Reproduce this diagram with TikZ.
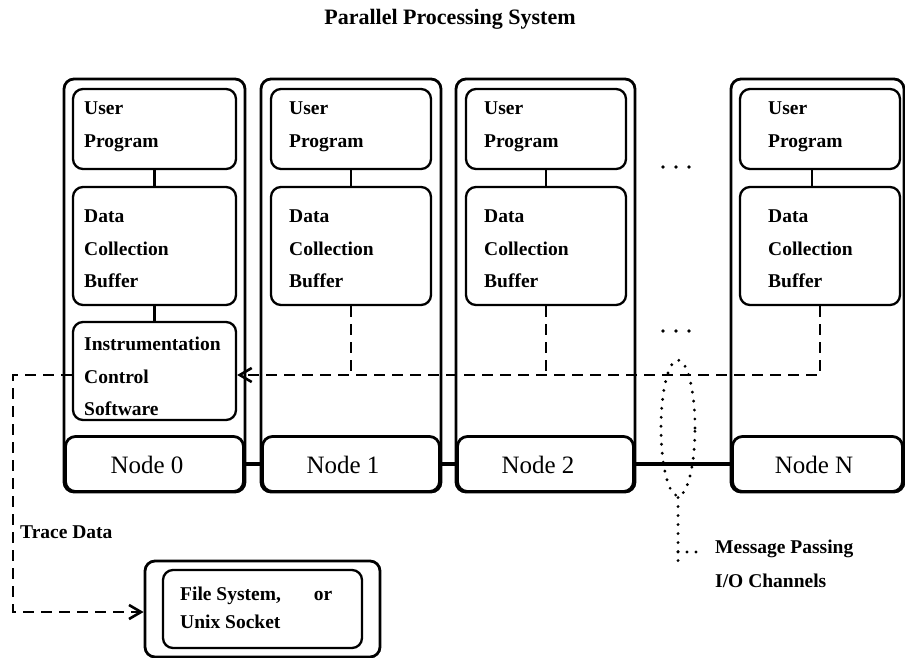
\documentclass[tikz,border=0pt]{standalone}
\usepackage{fontspec}
\setmainfont{Liberation Serif}
\usetikzlibrary{arrows.meta,shapes.geometric}

\begin{document}
\begin{tikzpicture}[x=1pt,y=-1pt,
  outerbox/.style={draw, line width=2.8pt, rounded corners=10pt, inner sep=0pt},
  innerbox/.style={draw, line width=2.3pt, rounded corners=10pt, inner sep=0pt},
  nodebox/.style={draw, line width=2.8pt, rounded corners=10pt, inner sep=0pt, minimum height=55pt},
  lbl/.style={anchor=north west, inner sep=0pt, align=left, font=\fontsize{19.5}{32.5}\selectfont\bfseries},
  nlbl/.style={anchor=base, inner sep=0pt, font=\fontsize{25}{30}\selectfont},
  link/.style={line width=2.4pt},
  bus/.style={line width=3.8pt},
  trace/.style={line width=2.6pt, dash pattern=on 11pt off 7pt},
  dotline/.style={line width=3.2pt, line cap=round, dash pattern=on 0pt off 9pt},
  tip/.style={-{Straight Barb[length=12pt,width=14pt]}}
]
\useasboundingbox (0,0) rectangle (905,658);

% title
\node[anchor=base, inner sep=0pt, font=\fontsize{22}{26}\selectfont\bfseries] (title) at (450,25) {Parallel Processing System};

% ---- node 0 ----
\node[outerbox, minimum width=181pt, minimum height=413pt] (c0) at (154.5,285.5) {};
\node[nodebox, minimum width=178pt] (n0) at (154.5,464) {};
\node[innerbox, minimum width=163pt, minimum height=80pt] (up0) at (154.5,129) {};
\node[innerbox, minimum width=163pt, minimum height=118pt] (dcb0) at (154.5,246) {};
\node[innerbox, minimum width=163pt, minimum height=98pt] (ics0) at (154.5,371) {};
\node[lbl] (tup0) at (84,102) {User\\Program};
\node[lbl] (tdcb0) at (84,210) {Data\\Collection\\Buffer};
\node[lbl] (tics0) at (84,337) {Instrumentation\\Control\\Software};
\node[nlbl] (l0) at (147,473) {Node 0};

% ---- node 1 ----
\node[outerbox, minimum width=180pt, minimum height=413pt] (c1) at (351,285.5) {};
\node[nodebox, minimum width=177pt] (n1) at (351,464) {};
\node[innerbox, minimum width=160pt, minimum height=80pt] (up1) at (351,129) {};
\node[innerbox, minimum width=160pt, minimum height=118pt] (dcb1) at (351,246) {};
\node[lbl] (tup1) at (289,102) {User\\Program};
\node[lbl] (tdcb1) at (289,210) {Data\\Collection\\Buffer};
\node[nlbl] (l1) at (343,473) {Node 1};

% ---- node 2 ----
\node[outerbox, minimum width=179pt, minimum height=413pt] (c2) at (545.5,285.5) {};
\node[nodebox, minimum width=176pt] (n2) at (545.5,464) {};
\node[innerbox, minimum width=160pt, minimum height=80pt] (up2) at (546,129) {};
\node[innerbox, minimum width=160pt, minimum height=118pt] (dcb2) at (546,246) {};
\node[lbl] (tup2) at (484,102) {User\\Program};
\node[lbl] (tdcb2) at (484,210) {Data\\Collection\\Buffer};
\node[nlbl] (l2) at (538,473) {Node 2};

% ---- node N ----
\node[outerbox, minimum width=173pt, minimum height=413pt] (cN) at (817.5,285.5) {};
\node[nodebox, minimum width=170pt] (nN) at (817.5,464) {};
\node[innerbox, minimum width=160pt, minimum height=80pt] (upN) at (820,129) {};
\node[innerbox, minimum width=160pt, minimum height=118pt] (dcbN) at (820,246) {};
\node[lbl] (tupN) at (768,102) {User\\Program};
\node[lbl] (tdcbN) at (768,210) {Data\\Collection\\Buffer};
\node[nlbl] (lN) at (814,473) {Node N};

% elided nodes
\foreach \x in {663,676,689} {
  \fill (\x,167) circle (1.8pt);
  \fill (\x,331) circle (1.8pt);
}

% links inside each node
\draw[link] (up0) -- (dcb0);
\draw[link] (dcb0) -- (ics0);
\draw[link] (up1) -- (dcb1);
\draw[link] (up2) -- (dcb2);
\draw[link] ([xshift=-8pt]upN.south) -- ([xshift=-8pt]dcbN.north);

% message passing interconnect
\draw[bus] (n0) -- (n1);
\draw[bus] (n1) -- (n2);
\draw[bus] (n2) -- (nN);

% trace collection paths
\coordinate (busy) at (0,375);
\draw[trace] (dcb1.south) -- (dcb1.south |- busy);
\draw[trace] (dcb2.south) -- (dcb2.south |- busy);
\draw[trace, tip] (dcbN.south) |- (ics0.east |- busy);

% trace output
\node[outerbox, minimum width=235pt, minimum height=96pt] (fs) at (262.5,609) {};
\node[innerbox, minimum width=199pt, minimum height=78pt] (fsi) at (262.5,609) {};
\node[lbl, font=\fontsize{19.5}{28}\selectfont\bfseries] (tfs) at (180,587) {File System,\hspace{33pt}or\\Unix Socket};
\coordinate (tl) at (13,375);
\coordinate (bl) at (13,612);
\draw[trace, tip] (ics0.west |- busy) -- (tl) -- (bl) -- (fs.west |- bl);
\node[anchor=base west, inner sep=0pt, font=\fontsize{19.5}{24}\selectfont\bfseries] (td) at (20,538) {Trace Data};

% I/O channel callout
\node[draw, ellipse, dotline, minimum width=34pt, minimum height=136pt, inner sep=0pt] (ring) at (678,428) {};
\node[lbl, font=\fontsize{19.5}{34}\selectfont\bfseries] (mp) at (715,540) {Message Passing\\I/O Channels};
\coordinate (mpend) at (678,561);
\coordinate (mpfork) at (678,552);
\draw[dotline] (ring.south) -- (mpend);
\draw[dotline] (mpfork) -- (697,552);
\end{tikzpicture}
\end{document}
